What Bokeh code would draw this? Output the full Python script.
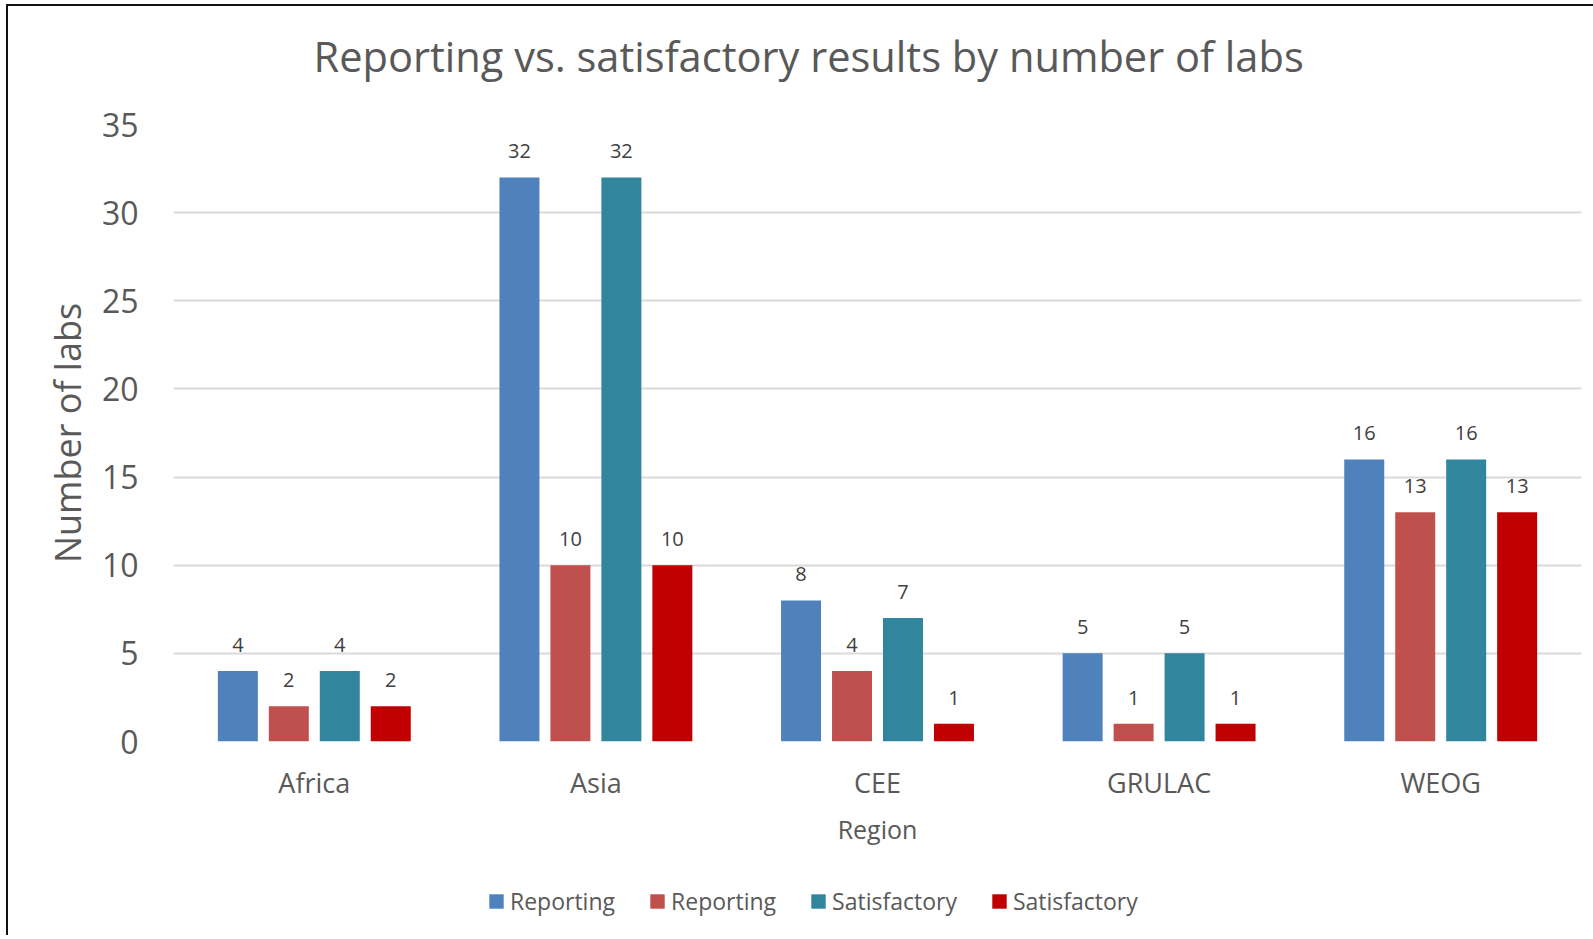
from bokeh.plotting import figure
from bokeh.layouts import column
from bokeh.models import ColumnDataSource, FactorRange, Range1d, LabelSet, Legend, LegendItem, SingleIntervalTicker
from bokeh.core.properties import value
from bokeh.transform import dodge
from bokeh.embed import file_html
from bokeh.resources import INLINE

regions = ["Africa", "Asia", "CEE", "GRULAC", "WEOG"]
reporting_a = [4, 32, 8, 5, 16]
reporting_b = [2, 10, 4, 1, 13]
satisfactory_a = [4, 32, 7, 5, 16]
satisfactory_b = [2, 10, 1, 1, 13]

series_names = ["Reporting", "Reporting", "Satisfactory", "Satisfactory"]
series_values = [reporting_a, reporting_b, satisfactory_a, satisfactory_b]
colors = ["#4F81BD", "#C0504D", "#31859C", "#C00000"]
offsets = [-0.2715, -0.0905, 0.0905, 0.2715]

FONT = "Open Sans"
GREY = "#595959"
W = 1585
BL, BR = 165, 12


def blank(fig):
    fig.axis.visible = False
    fig.grid.grid_line_color = None
    fig.outline_line_color = None
    fig.border_fill_color = "white"
    fig.background_fill_color = "white"


x_range = FactorRange(*regions)

# title strip
tf = figure(width=W, height=98, x_range=Range1d(0, 1), y_range=Range1d(0, 1),
            output_backend="svg", toolbar_location=None,
            min_border_left=BL, min_border_right=BR, min_border_top=84, min_border_bottom=0)
blank(tf)
tf.title.text = "Reporting vs. satisfactory results by number of labs"
tf.title.text_font = FONT
tf.title.text_font_size = "41.6px"
tf.title.text_font_style = "normal"
tf.title.text_color = GREY
tf.title.align = "left"
tf.title.vertical_align = "top"
tf.title.offset = 140
tf.title.standoff = 10

# main chart
p = figure(
    x_range=x_range, y_range=Range1d(0, 35),
    width=W, height=756,
    output_backend="svg", toolbar_location=None,
    min_border_left=BL, min_border_right=BR, min_border_top=20, min_border_bottom=119,
)
p.outline_line_color = None
p.background_fill_color = "white"
p.border_fill_color = "white"

# legend strip
pl = figure(width=W, height=75, x_range=x_range, y_range=Range1d(0, 35),
            output_backend="svg", toolbar_location=None,
            min_border_left=BL, min_border_right=BR, min_border_top=0, min_border_bottom=0)
blank(pl)

items = []
for name, vals, col, off in zip(series_names, series_values, colors, offsets):
    src = ColumnDataSource(dict(region=regions, value=vals, label=[str(v) for v in vals]))
    p.vbar(x=dodge("region", off, range=x_range), top="value", width=0.142,
           source=src, fill_color=col, line_color=None)
    lab = LabelSet(x=dodge("region", off, range=x_range), y="value", text="label", source=src,
                   text_align="center", text_baseline="middle", y_offset=26,
                   text_font=value(FONT), text_font_size=value("20px"), text_color=value("#404040"))
    p.add_layout(lab)
    rl = pl.vbar(x=dodge("region", off, range=x_range), top="value", width=0.142,
                 source=src, fill_color=col, line_color=None, visible=False)
    items.append(LegendItem(label=name, renderers=[rl]))

# axes
p.yaxis.ticker = SingleIntervalTicker(interval=5)
p.yaxis.axis_line_color = None
p.yaxis.major_tick_line_color = None
p.yaxis.minor_tick_line_color = None
p.yaxis.major_label_standoff = 29
p.yaxis.major_label_text_font = FONT
p.yaxis.major_label_text_font_size = "32px"
p.yaxis.major_label_text_color = GREY
p.yaxis.axis_label = "Number of labs"
p.yaxis.axis_label_text_font = FONT
p.yaxis.axis_label_text_font_size = "36px"
p.yaxis.axis_label_text_font_style = "normal"
p.yaxis.axis_label_text_color = GREY
p.yaxis.axis_label_standoff = 7

p.xaxis.axis_line_color = None
p.xaxis.major_tick_line_color = None
p.xaxis.minor_tick_line_color = None
p.xaxis.major_label_standoff = 16
p.xaxis.major_label_text_font = FONT
p.xaxis.major_label_text_font_size = "27px"
p.xaxis.major_label_text_color = GREY
p.xaxis.axis_label = "Region"
p.xaxis.axis_label_text_font = FONT
p.xaxis.axis_label_text_font_size = "25px"
p.xaxis.axis_label_text_font_style = "normal"
p.xaxis.axis_label_text_color = GREY
p.xaxis.axis_label_standoff = 8

p.xgrid.grid_line_color = None
p.ygrid.grid_line_color = "#D9D9D9"
p.ygrid.grid_line_width = 2

legend = Legend(
    items=items, orientation="horizontal", location=(314, 18),
    label_text_font=FONT, label_text_font_size="23px", label_text_color=GREY,
    glyph_width=18, glyph_height=18, label_standoff=5, spacing=33,
    border_line_color=None, background_fill_alpha=0, padding=4, margin=0,
    inactive_fill_alpha=0,
)
pl.add_layout(legend, "center")

layout = column(tf, p, pl, spacing=0)
layout.styles = {"margin-left": "6px", "margin-top": "4px",
                 "border-left": "2px solid #111", "border-top": "2px solid #111"}

open("out.html", "w").write(file_html(layout, INLINE))
